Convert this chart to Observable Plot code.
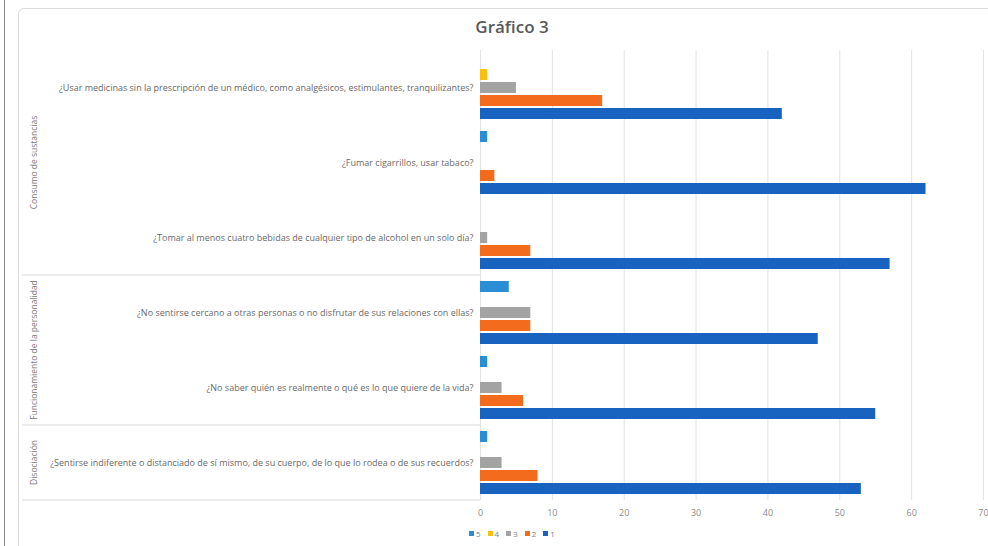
<!DOCTYPE html>
<html><head><meta charset="utf-8">
<script src="https://cdn.jsdelivr.net/npm/d3@7"></script>
<script src="https://cdn.jsdelivr.net/npm/@observablehq/plot@0.6"></script>
<style>
body{margin:0;background:#fff;}
#wrap{position:relative;width:988px;height:546px;overflow:hidden;font-family:"Open Sans",sans-serif;background:#fff;}
#pageline{position:absolute;left:4px;top:0;width:1px;height:546px;background:#8a8a8a;}
#frame{position:absolute;left:18px;top:8px;width:990px;height:580px;border:1px solid #dcdcdc;border-radius:6px;}
#title{position:absolute;top:15px;left:0;width:1024px;text-align:center;font-weight:600;font-size:17px;color:#595959;}
#chart{position:absolute;left:0;top:0;}
#legend{position:absolute;top:528px;left:469px;font-size:8px;color:#7f7f7f;display:flex;gap:7px;align-items:center;}
#legend span.item{display:flex;align-items:center;gap:2px;}
#legend span.sw{display:inline-block;width:5px;height:5px;}
</style></head>
<body><div id="wrap">
<div id="pageline"></div>
<div id="frame"></div>
<div id="title"></div>
<div id="chart"></div>
<div id="legend"></div>
</div>
<script>
const chartTitle = "Gráfico 3";
const questions = [
  "¿Usar medicinas sin la prescripción de un médico, como analgésicos, estimulantes, tranquilizantes?",
  "¿Fumar cigarrillos, usar tabaco?",
  "¿Tomar al menos cuatro bebidas de cualquier tipo de alcohol en un solo día?",
  "¿No sentirse cercano a otras personas o no disfrutar de sus relaciones con ellas?",
  "¿No saber quién es realmente o qué es lo que quiere de la vida?",
  "¿Sentirse indiferente o distanciado de sí mismo, de su cuerpo, de lo que lo rodea o de sus recuerdos?"
];
const groups = ["Consumo de sustancias", "Funcionamiento de la personalidad", "Disociación"];
const groupOfQuestion = [0, 0, 0, 1, 1, 2];
const seriesKeys = ["5", "4", "3", "2", "1"];
const seriesColors = ["#2a8ed6", "#fbbf10", "#a3a3a3", "#f36c1e", "#1763bf"];
const values5 = [0, 1, 0, 4, 1, 1];
const values4 = [1, 0, 0, 0, 0, 0];
const values3 = [5, 0, 1, 7, 3, 3];
const values2 = [17, 2, 7, 7, 6, 8];
const values1 = [42, 62, 57, 47, 55, 53];
const xTicks = [0, 10, 20, 30, 40, 50, 60, 70];

const seriesValues = [values5, values4, values3, values2, values1];
const rows = questions.flatMap((q, i) =>
  seriesKeys.map((s, j) => ({question: q, series: s, value: seriesValues[j][i]}))
);

document.getElementById("title").textContent = chartTitle;

const plot = Plot.plot({
  width: 988,
  height: 546,
  marginTop: 50,
  marginBottom: 46,
  marginLeft: 480,
  marginRight: 5,
  style: {background: "transparent", fontFamily: "Open Sans, sans-serif", fontSize: "9px", color: "#6a6a6a", overflow: "visible"},
  x: {domain: [0, 70], ticks: xTicks, label: null, tickSize: 0, tickPadding: 9},
  y: {domain: seriesKeys, axis: null, paddingInner: 0.18, paddingOuter: 0.45},
  fy: {domain: questions, padding: 0, label: null, axis: "left", tickSize: 0, tickPadding: 7},
  color: {domain: seriesKeys, range: seriesColors},
  marks: [
    Plot.ruleX(xTicks, {stroke: "#e2e2e2", strokeWidth: 1}),
    Plot.barX(rows.filter(d => d.value > 0), {x: "value", y: "series", fy: "question", fill: "series"})
  ]
});
document.getElementById("chart").appendChild(plot);

const svg = d3.select(plot);
svg.selectAll("[aria-label='x-axis tick label'] text, [aria-label='x-axis'] text").attr("fill", "#8c8c8c").style("font-size", "9px");

const fy = plot.scale("fy");
const bw = fy.bandwidth !== undefined ? fy.bandwidth : (546 - 50 - 46) / questions.length;
const posOf = q => fy.apply ? fy.apply(q) : 50 + questions.indexOf(q) * bw;
const gLayer = svg.append("g").attr("aria-label", "group labels");
groups.forEach((g, gi) => {
  const qs = questions.filter((q, i) => groupOfQuestion[i] === gi);
  const top = posOf(qs[0]);
  const bottom = posOf(qs[qs.length - 1]) + bw;
  gLayer.append("line")
    .attr("x1", 22).attr("x2", 480).attr("y1", bottom).attr("y2", bottom)
    .attr("stroke", "#d9d9d9").attr("stroke-width", 1);
  gLayer.append("text")
    .attr("transform", `translate(35,${(top + bottom) / 2}) rotate(-90)`)
    .attr("text-anchor", "middle").attr("dominant-baseline", "middle")
    .attr("fill", "#7a7a7a").style("font-size", "8.5px").style("font-family", "Open Sans, sans-serif")
    .text(g);
});

const legend = d3.select("#legend");
seriesKeys.forEach((s, j) => {
  const item = legend.append("span").attr("class", "item");
  item.append("span").attr("class", "sw").style("background", seriesColors[j]);
  item.append("span").text(s);
});
</script>
</body></html>
